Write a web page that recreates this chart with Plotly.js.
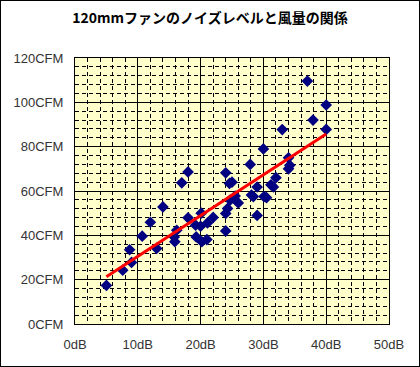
<!DOCTYPE html>
<html>
<head>
<meta charset="utf-8">
<script src="https://cdn.plot.ly/plotly-3.0.1.min.js"></script>
<style>
html,body{margin:0;padding:0;background:#fff;}
#wrap{position:relative;width:420px;height:367px;}
#chart{width:420px;height:367px;}
#frame{position:absolute;left:0;top:0;width:420px;height:367px;box-sizing:border-box;border:1px solid #000;pointer-events:none;}
</style>
</head>
<body>
<div id="wrap"><div id="chart"></div><div id="frame"></div></div>
<script>
// noise level (dB)
var noiseDb = [5.0, 7.6, 8.7, 9.0, 10.7, 12.0, 13.0, 14.0, 15.8, 15.9,
  16.2, 17.0, 18.0, 18.0, 19.2, 19.3, 20.0, 20.1, 20.2, 21.0,
  21.1, 22.0, 24.0, 24.0, 24.0, 24.3, 24.6, 25.0, 24.7, 25.5,
  26.0, 27.9, 28.1, 28.4, 29.0, 29.0, 30.0, 30.1, 30.5, 31.2,
  31.6, 32.0, 33.0, 34.0, 34.2, 34.0, 37.0, 37.9, 40.0, 40.0];
// airflow (CFM)
var airflowCfm = [17.4, 24.3, 33.5, 27.8, 39.6, 45.9, 34.1, 52.8, 39.3, 37.1,
  42.3, 63.7, 68.6, 47.9, 44.6, 39.3, 44.1, 50.0, 37.1, 38.1,
  45.6, 48.1, 42.0, 49.9, 68.2, 52.1, 63.4, 64.0, 55.9, 57.7,
  54.6, 72.0, 58.2, 57.5, 61.8, 49.0, 79.0, 57.5, 57.0, 62.8,
  61.8, 66.0, 87.7, 75.0, 71.6, 70.0, 109.6, 92.0, 98.8, 87.8];
// linear trend line end points
var trendX = [5, 40];
var trendY = [21.3, 85.7];

var titleText = '120mmファンのノイズレベルと風量の関係';
var fontFam = '"Liberation Sans", Arial, sans-serif';

var traces = [
  {x: noiseDb, y: airflowCfm, type: 'scatter', mode: 'markers',
   marker: {symbol: 'diamond', size: 9, color: '#000080'}, hoverinfo: 'none'},
  {x: trendX, y: trendY, type: 'scatter', mode: 'lines',
   line: {color: '#FF0000', width: 3}, hoverinfo: 'none'}
];

var axisCommon = {
  showline: true, mirror: true, linecolor: '#000', linewidth: 1,
  showgrid: true, gridcolor: '#000', gridwidth: 1,
  zeroline: false, ticks: '',
  tickfont: {family: fontFam, size: 13, color: '#333'}
};

var layout = {
  width: 420, height: 367,
  margin: {l: 75, r: 31, t: 58, b: 43},
  paper_bgcolor: '#fff',
  plot_bgcolor: '#FFFFCC',
  showlegend: false,
  title: {text: titleText, x: 0.5, xanchor: 'center', y: 0.952, yanchor: 'middle',
    font: {family: '"Noto Sans CJK JP", sans-serif', size: 14, color: '#000', weight: 'bold'}},
  xaxis: Object.assign({}, axisCommon, {
    range: [0, 50], dtick: 10, tick0: 0, ticksuffix: 'dB',
    ticklabelstandoff: 8,
    minor: {dtick: 2, showgrid: true, gridcolor: '#000', griddash: '4px,3px', gridwidth: 1}
  }),
  yaxis: Object.assign({}, axisCommon, {
    range: [0, 120], dtick: 20, tick0: 0, ticksuffix: 'CFM',
    ticklabelstandoff: 8,
    minor: {dtick: 4, showgrid: true, gridcolor: '#000', griddash: '4px,3px', gridwidth: 1}
  })
};

Plotly.newPlot('chart', traces, layout, {staticPlot: true, displayModeBar: false});
</script>
</body>
</html>
